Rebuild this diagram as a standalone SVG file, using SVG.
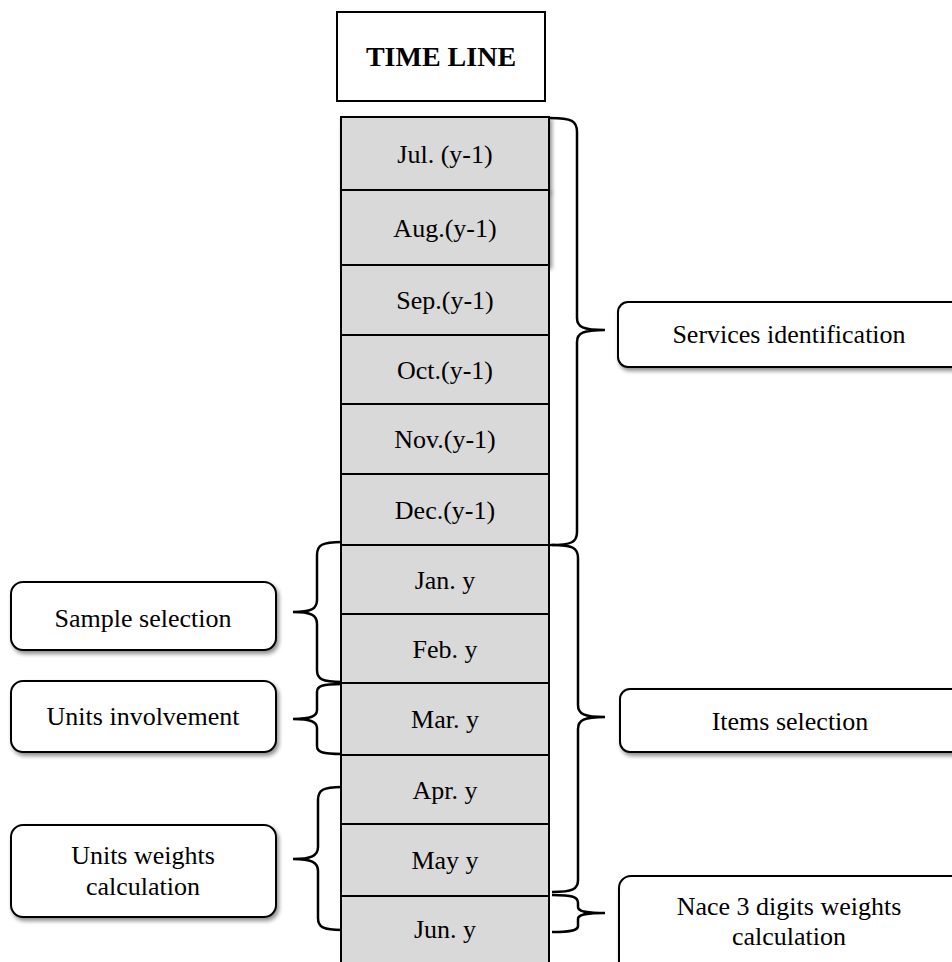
<svg xmlns="http://www.w3.org/2000/svg" width="952" height="962" viewBox="0 0 952 962">
<defs>
<filter id="sh" x="-10%" y="-10%" width="130%" height="140%">
<feGaussianBlur in="SourceAlpha" stdDeviation="2"/>
<feOffset dx="2" dy="3" result="b"/>
<feComponentTransfer><feFuncA type="linear" slope="0.45"/></feComponentTransfer>
<feMerge><feMergeNode/><feMergeNode in="SourceGraphic"/></feMerge>
</filter>
<style>
text{font-family:"Liberation Serif","Times New Roman",serif;font-size:26px;fill:#000;text-anchor:middle}
.cell{fill:#d9d9d9;stroke:#000;stroke-width:2}
.box{fill:#fff;stroke:#000;stroke-width:2}
.br{fill:none;stroke:#000;stroke-width:2.5;stroke-linecap:butt}
</style>
</defs>
<rect width="952" height="962" fill="#fff"/>

<g id="title">
<rect x="337" y="12" width="208" height="89" fill="#fff" stroke="#000" stroke-width="2"/>
<text x="441" y="66" style="font-weight:bold;font-size:28px">TIME LINE</text>
</g>

<g id="timeline">
<g id="jul"><rect class="cell" x="341" y="117" width="208" height="73" filter="url(#sh)"/><text x="445" y="163">Jul. (y-1)</text></g>
<g id="aug"><rect class="cell" x="341" y="190" width="208" height="75" filter="url(#sh)"/><text x="445" y="237">Aug.(y-1)</text></g>
<g id="sep"><rect class="cell" x="341" y="265" width="208" height="70"/><text x="445" y="309">Sep.(y-1)</text></g>
<g id="oct"><rect class="cell" x="341" y="335" width="208" height="69"/><text x="445" y="379">Oct.(y-1)</text></g>
<g id="nov"><rect class="cell" x="341" y="404" width="208" height="70"/><text x="445" y="448">Nov.(y-1)</text></g>
<g id="dec"><rect class="cell" x="341" y="474" width="208" height="71"/><text x="445" y="519">Dec.(y-1)</text></g>
<g id="jan"><rect class="cell" x="341" y="545" width="208" height="69"/><text x="445" y="589">Jan. y</text></g>
<g id="feb"><rect class="cell" x="341" y="614" width="208" height="69"/><text x="445" y="658">Feb. y</text></g>
<g id="mar"><rect class="cell" x="341" y="683" width="208" height="72"/><text x="445" y="728">Mar. y</text></g>
<g id="apr"><rect class="cell" x="341" y="755" width="208" height="69"/><text x="445" y="799">Apr. y</text></g>
<g id="may"><rect class="cell" x="341" y="824" width="208" height="72"/><text x="445" y="869">May y</text></g>
<g id="jun"><rect class="cell" x="341" y="896" width="208" height="80"/><text x="445" y="938">Jun. y</text></g>
</g>

<g id="services">
<rect class="box" x="618" y="302" width="345" height="65" rx="10" filter="url(#sh)"/>
<text x="789" y="343">Services identification</text>
</g>
<g id="items">
<rect class="box" x="620" y="689" width="345" height="63" rx="10" filter="url(#sh)"/>
<text x="790" y="730">Items selection</text>
</g>
<g id="nace">
<rect class="box" x="619" y="876" width="345" height="100" rx="12" filter="url(#sh)"/>
<text x="789" y="915">Nace 3 digits weights</text>
<text x="789" y="945">calculation</text>
</g>
<g id="sample">
<rect class="box" x="11" y="582" width="265" height="68" rx="12" filter="url(#sh)"/>
<text x="143" y="627">Sample selection</text>
</g>
<g id="involvement">
<rect class="box" x="11" y="681" width="265" height="71" rx="12" filter="url(#sh)"/>
<text x="143" y="725">Units involvement</text>
</g>
<g id="weights">
<rect class="box" x="11" y="825" width="265" height="92" rx="12" filter="url(#sh)"/>
<text x="143" y="864">Units weights</text>
<text x="143" y="895">calculation</text>
</g>

<g id="connectors" class="br">
<path class="br" d="M550,118 C572,118 577,121 577,132 L577,318 C577,327 583,330 605,330 C583,330 577,333 577,342 L577,532 C577,542 572,545 550,545"/>
<path class="br" d="M552,545 C573,545 578,548 578,558 L578,705 C578,714 584,717 605,717 C584,717 578,720 578,729 L578,880 C578,889 573,892 552,892"/>
<path class="br" d="M552,895 C573,895 578,897 578,903 L578,907 C578,911 584,913 605,913 C584,913 578,915 578,919 L578,926 C578,930 573,932 552,932"/>
<path class="br" d="M342,542 C322,542 317,545 317,555 L317,600 C317,609 311,612 293,612 C311,612 317,615 317,624 L317,670 C317,679 322,682 342,682"/>
<path class="br" d="M342,684 C322,684 317,686 317,692 L317,710 C317,716 311,719 293,719 C311,719 317,722 317,728 L317,746 C317,752 322,754 342,754"/>
<path class="br" d="M342,787 C323,787 318,790 318,800 L318,847 C318,856 311,859 293,859 C311,859 318,862 318,871 L318,918 C318,927 323,930 342,930"/>
</g>
</svg>
